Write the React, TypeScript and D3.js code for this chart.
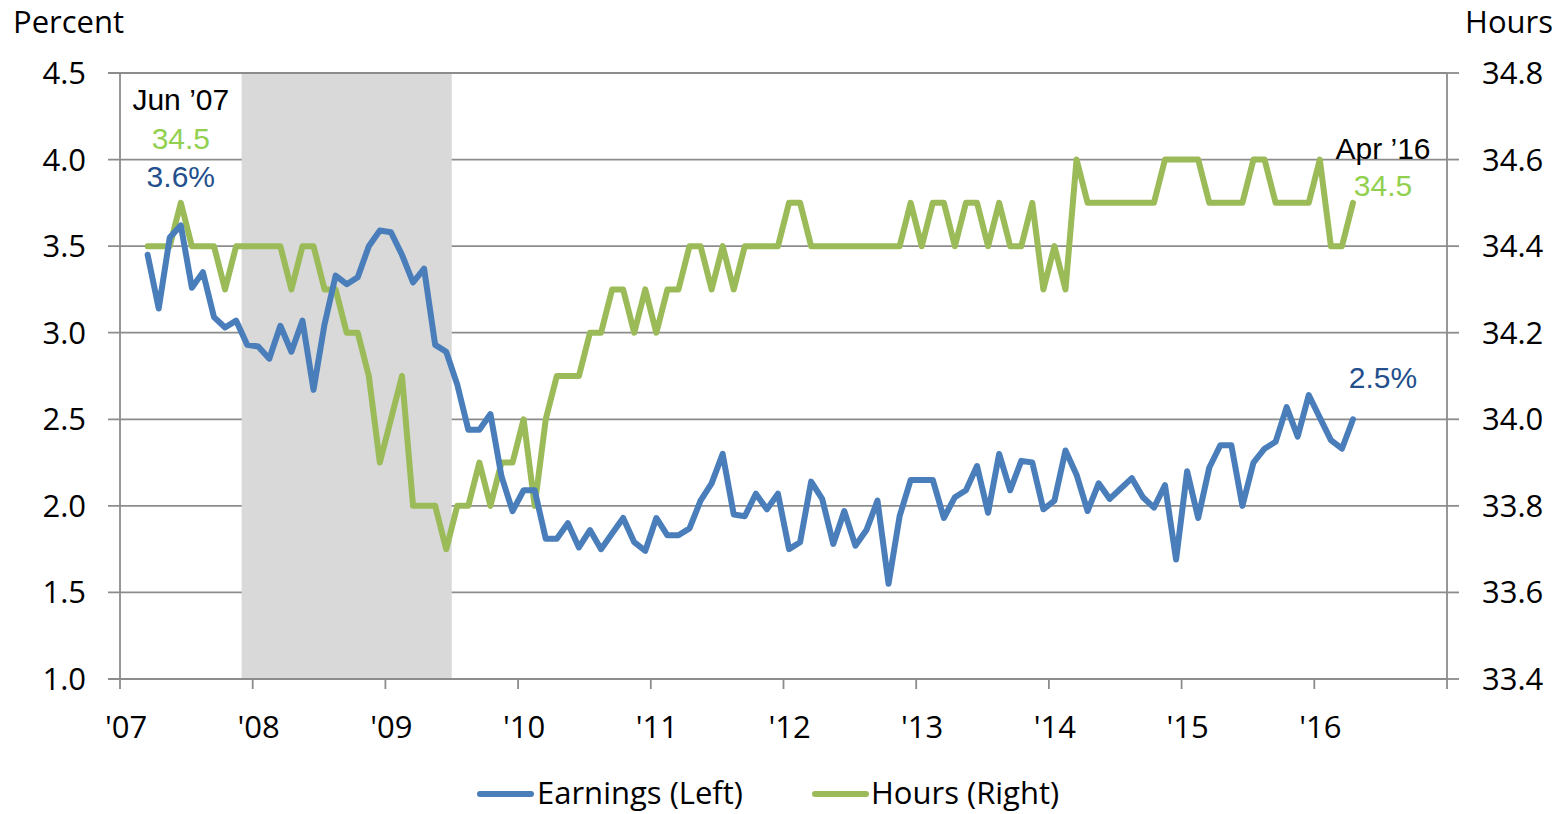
import React from "react";
import * as d3 from "d3";

// monthly series, Mar 2007 .. Apr 2016
const START_MONTH = 2; // months after Jan 2007
const earnings = [
  3.45, 3.14, 3.55, 3.62, 3.26, 3.35, 3.09, 3.03, 3.07, 2.93,
  2.92, 2.85, 3.04, 2.89, 3.07, 2.67, 3.05, 3.33, 3.28, 3.32, 3.5, 3.59,
  3.58, 3.45, 3.29, 3.37, 2.93, 2.89, 2.7, 2.44, 2.44, 2.53, 2.17, 1.97,
  2.09, 2.09, 1.81, 1.81, 1.9, 1.76, 1.86, 1.75, 1.84, 1.93, 1.79, 1.74,
  1.93, 1.83, 1.83, 1.87, 2.03, 2.13, 2.3, 1.95, 1.94, 2.07, 1.98, 2.07,
  1.75, 1.79, 2.14, 2.04, 1.78, 1.97, 1.77, 1.86, 2.03, 1.55, 1.94, 2.15,
  2.15, 2.15, 1.93, 2.05, 2.09, 2.23, 1.96, 2.3, 2.09, 2.26, 2.25, 1.98,
  2.03, 2.32, 2.18, 1.97, 2.13, 2.04, 2.1, 2.16, 2.05, 1.99, 2.12, 1.69,
  2.2, 1.93, 2.22, 2.35, 2.35, 2.0, 2.25, 2.33, 2.37, 2.57, 2.4, 2.64,
  2.51, 2.38, 2.33, 2.5,
];
const hours = [
  34.4, 34.4, 34.4, 34.5, 34.4, 34.4, 34.4, 34.3, 34.4, 34.4,
  34.4, 34.4, 34.4, 34.3, 34.4, 34.4, 34.3, 34.3, 34.2, 34.2, 34.1, 33.9,
  34.0, 34.1, 33.8, 33.8, 33.8, 33.7, 33.8, 33.8, 33.9, 33.8, 33.9, 33.9,
  34.0, 33.8, 34.0, 34.1, 34.1, 34.1, 34.2, 34.2, 34.3, 34.3, 34.2, 34.3,
  34.2, 34.3, 34.3, 34.4, 34.4, 34.3, 34.4, 34.3, 34.4, 34.4, 34.4, 34.4,
  34.5, 34.5, 34.4, 34.4, 34.4, 34.4, 34.4, 34.4, 34.4, 34.4, 34.4, 34.5,
  34.4, 34.5, 34.5, 34.4, 34.5, 34.5, 34.4, 34.5, 34.4, 34.4, 34.5, 34.3,
  34.4, 34.3, 34.6, 34.5, 34.5, 34.5, 34.5, 34.5, 34.5, 34.5, 34.6, 34.6,
  34.6, 34.6, 34.5, 34.5, 34.5, 34.5, 34.6, 34.6, 34.5, 34.5, 34.5, 34.5,
  34.6, 34.4, 34.4, 34.5,
];
const yearLabels = ["'07", "'08", "'09", "'10", "'11", "'12", "'13", "'14", "'15", "'16"];
const leftTicks = [1.0, 1.5, 2.0, 2.5, 3.0, 3.5, 4.0, 4.5];
const rightTicks = [33.4, 33.6, 33.8, 34.0, 34.2, 34.4, 34.6, 34.8];
const recession = [11, 30]; // Dec 2007 .. Jun 2009 (month index)

const BLUE = "#4a7ebb";
const GREEN = "#9bbb59";
const LABEL_BLUE = "#234f8c";
const LABEL_GREEN = "#92d050";
const GRID = "#8c8c8c";
const FONT = "'Open Sans', sans-serif";
const ARIAL = "'Liberation Sans', Arial, sans-serif";

export default function App() {
  const margin = { left: 120, right: 1447, top: 73, bottom: 679 };
  const x = d3.scaleLinear().domain([0, 120]).range([margin.left, margin.right]);
  const yL = d3.scaleLinear().domain([1.0, 4.5]).range([margin.bottom, margin.top]);
  const yR = d3.scaleLinear().domain([33.4, 34.8]).range([margin.bottom, margin.top]);

  const mx = (i: number) => x(START_MONTH + i + 0.5);
  const earnLine = d3.line<number>().x((_, i) => mx(i)).y((d) => yL(d));
  const hourLine = d3.line<number>().x((_, i) => mx(i)).y((d) => yR(d));

  const yearTicks = d3.range(0, 121, 12);
  const lastI = earnings.length - 1;

  return (
    <svg width={1564} height={814} style={{ position: "absolute", left: 0, top: 0, background: "#fff" }}>
      {/* gridlines */}
      {leftTicks.map((t) => (
        <g key={t}>
          <line x1={margin.left - 12} x2={margin.right} y1={yL(t)} y2={yL(t)} stroke={GRID} strokeWidth={1.8} />
          <text x={86} y={yL(t) + 11} textAnchor="end" fontFamily={FONT} fontSize={31} fill="#000">
            {t.toFixed(1)}
          </text>
        </g>
      ))}
      {rightTicks.map((t) => (
        <g key={t}>
          <line x1={margin.right} x2={margin.right + 12} y1={yR(t)} y2={yR(t)} stroke={GRID} strokeWidth={1.8} />
          <text x={1482} y={yR(t) + 11} textAnchor="start" fontFamily={FONT} fontSize={31} fill="#000">
            {t.toFixed(1)}
          </text>
        </g>
      ))}
      {/* recession shading */}
      <rect
        x={x(recession[0])}
        y={margin.top + 1}
        width={x(recession[1]) - x(recession[0])}
        height={margin.bottom - margin.top - 2}
        fill="#d9d9d9"
      />
      {/* axes */}
      <line x1={margin.left} x2={margin.left} y1={margin.top} y2={margin.bottom} stroke={GRID} strokeWidth={1.8} />
      <line x1={margin.right} x2={margin.right} y1={margin.top} y2={margin.bottom} stroke={GRID} strokeWidth={1.8} />
      <line x1={margin.left} x2={margin.right} y1={margin.bottom} y2={margin.bottom} stroke={GRID} strokeWidth={1.8} />
      {yearTicks.map((m, k) => (
        <g key={m}>
          <line x1={x(m)} x2={x(m)} y1={margin.bottom} y2={margin.bottom + 10} stroke={GRID} strokeWidth={1.8} />
          {yearLabels[k] && (
            <text x={x(m) + 6} y={738} textAnchor="middle" fontFamily={FONT} fontSize={31} fill="#000">
              {yearLabels[k]}
            </text>
          )}
        </g>
      ))}
      {/* series */}
      <path d={hourLine(hours) ?? ""} fill="none" stroke={GREEN} strokeWidth={6} strokeLinejoin="round" strokeLinecap="round" />
      <path d={earnLine(earnings) ?? ""} fill="none" stroke={BLUE} strokeWidth={6} strokeLinejoin="round" strokeLinecap="round" />

      {/* axis titles */}
      <text x={13} y={33} fontFamily={FONT} fontSize={31} fill="#000">Percent</text>
      <text x={1553} y={33} textAnchor="end" fontFamily={FONT} fontSize={31} fill="#000">Hours</text>

      {/* annotations */}
      <text x={mx(3)} y={110} textAnchor="middle" fontFamily={ARIAL} fontSize={30} fill="#000">Jun ’07</text>
      <text x={mx(3)} y={149} textAnchor="middle" fontFamily={ARIAL} fontSize={30} fill={LABEL_GREEN}>{hours[3].toFixed(1)}</text>
      <text x={mx(3)} y={187} textAnchor="middle" fontFamily={ARIAL} fontSize={30} fill={LABEL_BLUE}>{earnings[3].toFixed(1)}%</text>
      <text x={mx(lastI) + 30} y={159} textAnchor="middle" fontFamily={ARIAL} fontSize={30} fill="#000">Apr ’16</text>
      <text x={mx(lastI) + 30} y={196} textAnchor="middle" fontFamily={ARIAL} fontSize={30} fill={LABEL_GREEN}>{hours[lastI].toFixed(1)}</text>
      <text x={mx(lastI) + 30} y={388} textAnchor="middle" fontFamily={ARIAL} fontSize={30} fill={LABEL_BLUE}>{earnings[lastI].toFixed(1)}%</text>

      {/* legend */}
      <line x1={480} x2={531} y1={794} y2={794} stroke={BLUE} strokeWidth={6} strokeLinecap="round" />
      <text x={537} y={804} fontFamily={FONT} fontSize={31} fill="#000">Earnings (Left)</text>
      <line x1={815} x2={866} y1={794} y2={794} stroke={GREEN} strokeWidth={6} strokeLinecap="round" />
      <text x={871} y={804} fontFamily={FONT} fontSize={31} fill="#000">Hours (Right)</text>
    </svg>
  );
}
